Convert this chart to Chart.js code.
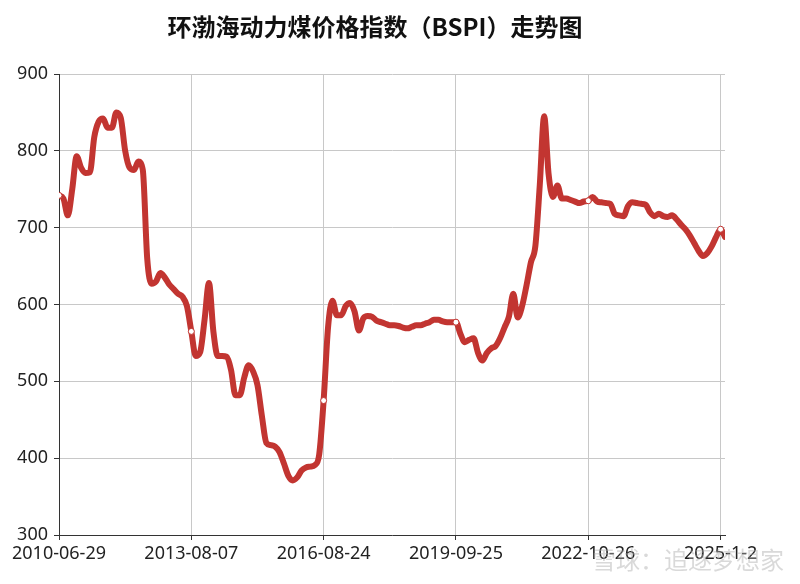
<!DOCTYPE html>
<html>
<head>
<meta charset="utf-8">
<script src="https://cdn.jsdelivr.net/npm/chart.js@4"></script>
<style>
  html, body { margin: 0; padding: 0; background: #fff; }
</style>
</head>
<body>
<canvas id="bspi" width="800" height="584"></canvas>
<script>
const chartTitle = '环渤海动力煤价格指数（BSPI）走势图';
const watermark = '雪球：追逐梦想家';

// dates shown under the x axis, one every `labelStep` points
const tickLabels = ['2010-06-29', '2013-08-07', '2016-08-24', '2019-09-25', '2022-10-26', '2025-1-2'];
const labelStep = 30;

// index values (yuan/ton)
const bspi = [
  742, 738, 716, 750, 793, 778, 771, 772, 818, 838,
  842, 830, 830, 850, 843, 800, 778, 775, 786, 775,
  660, 627, 630, 641, 635, 626, 620, 614, 610, 598,
  565, 533, 538, 580, 628, 565, 533, 533, 532, 515,
  482, 482, 505, 521, 513, 495, 455, 420, 417, 415,
  408, 393, 377, 371, 375, 384, 388, 389, 391, 405,
  475, 570, 605, 586, 586, 598, 602, 591, 566, 582,
  585, 584, 579, 577, 575, 573, 573, 572, 570, 569,
  571, 573, 573, 575, 577, 580, 580, 578, 577, 577,
  577, 562, 551, 554, 556, 537, 527, 537, 543, 546,
  556, 570, 584, 614, 583, 598, 625, 655, 676, 755,
  845, 770, 740, 755, 738, 738, 736, 734, 732, 734,
  735, 740, 734, 733, 732, 731, 718, 716, 715, 728,
  733, 732, 731, 730, 720, 715, 718, 715, 714, 716,
  711, 704, 698, 690, 680, 670, 663, 667, 676, 688,
  698, 688
];

const yMin = 300, yMax = 900, yStep = 100;

const red = '#c23531';
const axisColor = '#333';
const gridColor = '#c8c8c8';
const tickFont = { family: '"Noto Sans", sans-serif', size: 18 };

const points = bspi.map((v, i) => ({ x: i, y: v }));

// title + watermark drawn by hand so they sit where the original has them
const decor = {
  id: 'decor',
  afterDraw(chart) {
    const c = chart.ctx;
    c.save();
    c.fillStyle = '#111';
    c.font = 'bold 24px "Noto Sans CJK SC", sans-serif';
    c.textAlign = 'center';
    c.textBaseline = 'middle';
    c.fillText(chartTitle, 375, 27);

    c.font = '24px "Noto Sans CJK SC", sans-serif';
    c.textAlign = 'left';
    c.fillStyle = 'rgba(170,170,170,0.45)';
    c.fillText(watermark, 592, 560);
    c.restore();
  }
};

new Chart(document.getElementById('bspi').getContext('2d'), {
  type: 'line',
  data: {
    datasets: [{
      label: 'BSPI',
      data: points,
      borderColor: red,
      backgroundColor: red,
      borderWidth: 6,
      borderJoinStyle: 'round',
      borderCapStyle: 'round',
      cubicInterpolationMode: 'monotone',
      pointRadius: ctx => ctx.dataIndex % labelStep === 0 ? 3 : 0,
      pointHoverRadius: 0,
      pointBackgroundColor: '#fff',
      pointBorderColor: red,
      pointBorderWidth: 1
    }]
  },
  options: {
    responsive: false,
    animation: false,
    layout: { padding: { top: 74, right: 75, bottom: 0, left: 0 } },
    plugins: {
      legend: { display: false },
      tooltip: { enabled: false }
    },
    scales: {
      x: {
        type: 'linear',
        min: 0,
        max: bspi.length - 1,
        afterBuildTicks: scale => {
          scale.ticks = tickLabels.map((t, i) => ({ value: i * labelStep }));
        },
        afterFit: scale => { scale.height = 49; },
        ticks: {
          color: '#222',
          font: tickFont,
          padding: 3,
          maxRotation: 0,
          autoSkip: false,
          callback: v => tickLabels[v / labelStep]
        },
        grid: { color: gridColor, tickColor: axisColor, tickLength: 5 },
        border: { color: axisColor, width: 1 }
      },
      y: {
        min: yMin,
        max: yMax,
        afterFit: scale => { scale.width = 59; },
        ticks: {
          stepSize: yStep,
          color: '#222',
          font: tickFont,
          padding: 6
        },
        grid: { color: gridColor, tickColor: axisColor, tickLength: 5 },
        border: { color: axisColor, width: 1 }
      }
    }
  },
  plugins: [decor]
});
</script>
</body>
</html>
